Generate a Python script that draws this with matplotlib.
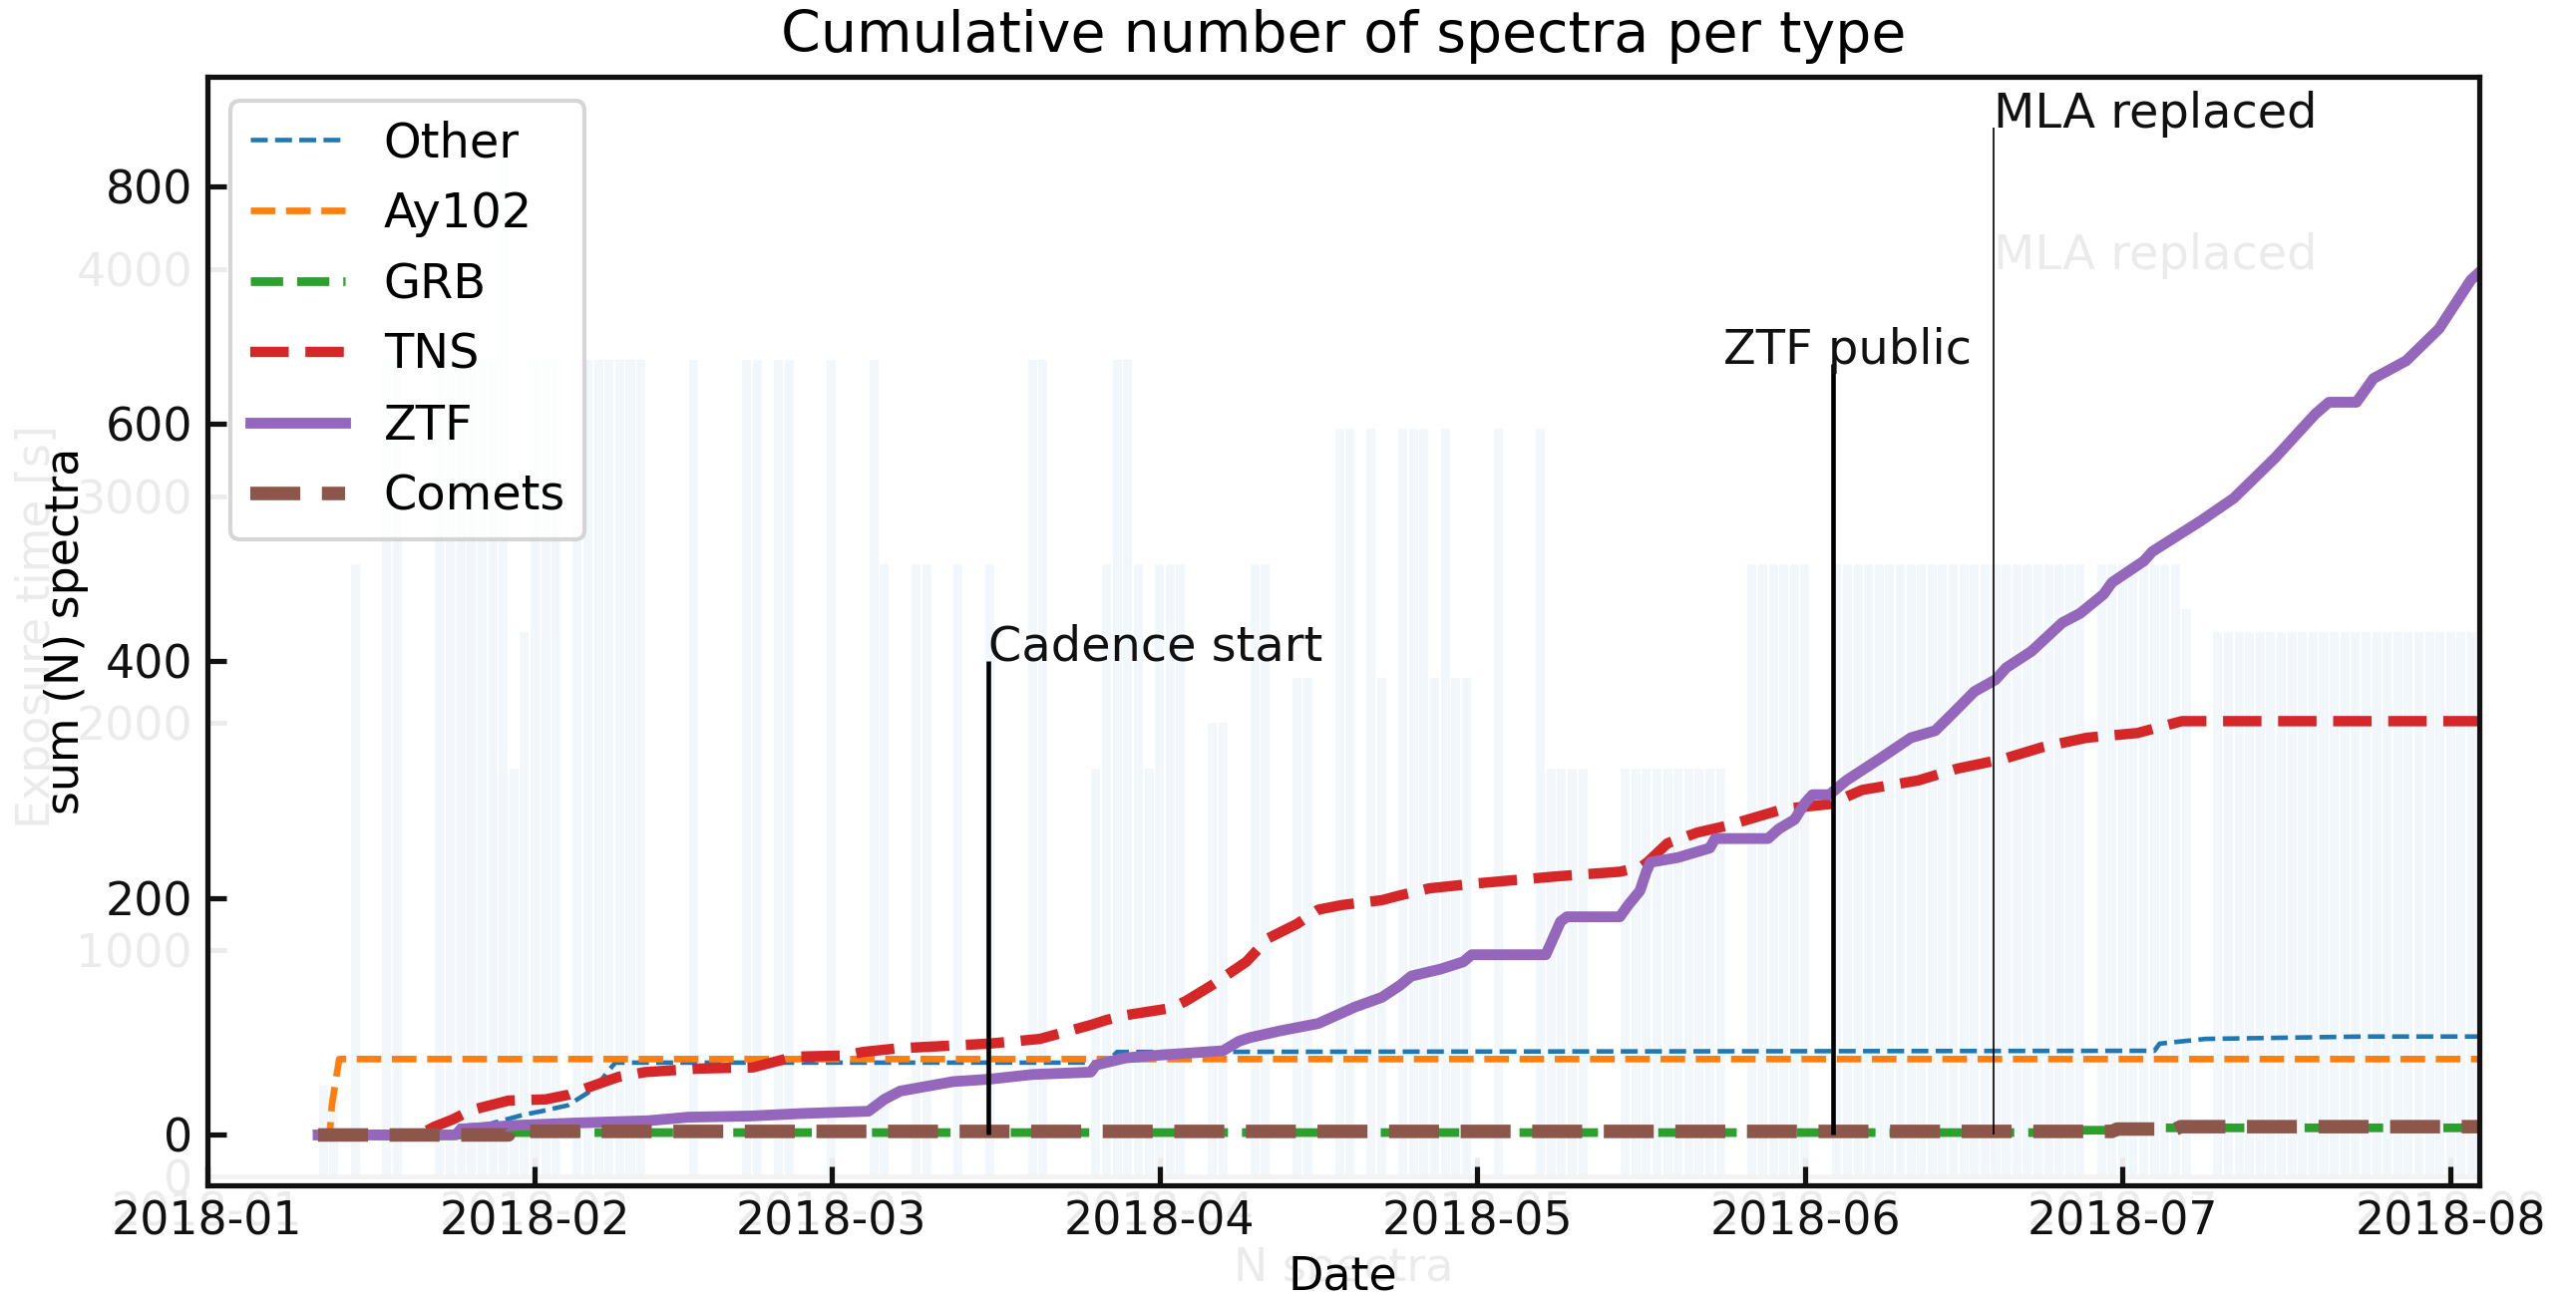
import numpy as np
import matplotlib
matplotlib.use('Agg')
import matplotlib.pyplot as plt
import matplotlib.dates as mdates
import datetime as dt

# ---------------- data (days since 2018-01-01) ----------------
other_day = [10.5, 23.2, 23.5, 26.6, 29.9, 31.6, 34.1, 36.6, 38.3, 38.6, 85, 86, 184, 184.5, 188.8, 203.6, 215]
other_n = [0, 0, 7, 9, 17, 20, 25, 39, 58, 61, 61, 70, 71, 77, 81, 83, 83]

ay102_day = [10.5, 11.6, 11.8, 12.5, 215]
ay102_n = [0, 0, 25, 64, 64]

grb_day = [10.5, 28.5, 28.7, 176.6, 177, 184, 184.5, 215]
grb_n = [0, 0, 2, 2, 4, 4, 6, 6]

tns_day = [10.5, 20, 21.5, 23.2, 25, 28.5, 32, 34.2, 35.4, 37.6, 38.9, 41.4, 46.5, 51.6, 55.5, 60.2,
           62, 65.2, 73.9, 78.7, 83.6, 85, 86.8, 91.1, 92.5, 94.9, 98.2, 100.3, 103, 105, 107.3, 111,
           112.7, 115.5, 119.8, 127.4, 133.5, 135.5, 136.1, 138, 140.8, 143.7, 149, 153.3, 156.4,
           161.7, 165.4, 169.7, 173.4, 177.6, 182.4, 186.6, 215]
tns_n = [0, 0, 7, 13, 21, 29, 30, 34, 38, 45, 49, 53, 56, 57, 66, 67,
         70, 73, 77, 81, 93, 97, 101, 107, 113, 126, 146, 166, 178, 190, 194, 198,
         202, 208, 212, 218, 222, 226, 230, 246, 255, 261, 275, 279, 291,
         299, 309, 317, 327, 335, 339, 349, 349]

ztf_day = [10.5, 23.5, 24, 29, 34.6, 41.7, 45.5, 51.4, 56, 62.5, 64, 65.5, 70.5, 73.9, 78, 83.5, 84,
           86.8, 89.5, 96, 97.5, 98.5, 101.5, 105, 107.5, 108.5, 111, 112.7, 113.8, 116.6, 118.7,
           119.5, 126.5, 127, 127.9, 128.5, 133.5, 134.3, 135.4, 136, 136.4, 139, 142, 142.5, 147.5,
           148.5, 150, 151, 151.7, 153.3, 154.9, 158, 161, 163.3, 165, 167, 169, 170, 172.4, 175.3,
           177, 179.2, 180, 183, 183.8, 188.4, 191.5, 195.4, 199.2, 200.5, 203.1, 204.7, 207.8,
           210.9, 213.9, 215]
ztf_n = [0, 0, 5, 8, 10, 12, 15, 16, 18, 20, 30, 37, 45, 47, 51, 53, 59,
         65, 67, 71, 79, 82, 88, 94, 104, 108, 116, 126, 134, 140, 146,
         152, 152, 162, 180, 184, 184, 194, 206, 222, 230, 234, 242, 250, 250,
         258, 266, 280, 287, 287, 299, 317, 335, 341, 356, 374, 384, 394, 408, 432,
         440, 456, 466, 484, 492, 518, 537, 571, 608, 618, 618, 638, 653,
         680, 721, 730]

comets_day = [10.5, 28.5, 28.6, 180, 180.5, 186, 186.5, 215]
comets_n = [0, 0, 3, 3, 5, 5, 7, 7]

series_names = ['Other', 'Ay102', 'GRB', 'TNS', 'ZTF', 'Comets']

event_names = ['Cadence start', 'ZTF public', 'MLA replaced']
event_day = [73.8, 153.6, 168.8]
event_top = [400, 650, 850]
event_text_day = [73.8, 143.3, 168.8]

# faint background: exposure time bars
bar_day = [11, 12, 14, 17, 18, 22, 23, 24, 25, 26, 27, 28, 29, 30, 31, 32, 33,
           35, 36, 37, 38, 39, 40, 41, 46, 51, 52, 54, 55, 59, 63,
           64, 67, 68, 71, 74, 78, 79, 84, 85, 86, 87, 88, 89, 90, 91, 92, 95, 96,
           99, 100, 103, 104, 107, 108, 110, 111, 113, 114, 115, 116, 117, 118, 119,
           122, 126, 127, 128, 129, 130, 134, 135, 136, 137, 138, 139, 140, 141, 142, 143,
           146, 147, 148, 149, 150, 151, 154, 155, 156, 157, 158, 159, 160, 161, 162, 163,
           164, 165, 166, 167, 168, 169, 170, 171, 172, 173, 174, 175, 176, 177,
           179, 180, 181, 182, 183, 184, 185, 186, 187,
           190, 191, 192, 193, 194, 195, 196, 197, 198, 199, 200, 201, 202, 203, 204,
           205, 206, 207, 208, 209, 210, 211, 212, 213, 214]
bar_exp = [400, 400, 2700, 3600, 3600, 3600, 3600, 3600, 3600, 3600, 3600, 4500, 1800, 2400, 3600, 3600, 3600,
           3600, 3600, 3600, 3600, 3600, 3600, 3600, 3600, 3600, 3600, 3600, 3600, 3600, 3600,
           2700, 2700, 2700, 2700, 2700, 3600, 3600, 1800, 2700, 3600, 3600, 2700, 1800, 2700, 2700, 2700, 2000, 2000,
           2700, 2700, 2200, 2200, 3300, 3300, 3300, 2200, 3300, 3300, 3300, 2200, 3300, 2200, 2200,
           3300, 3300, 1800, 1800, 1800, 1800, 1800, 1800, 1800, 1800, 1800, 1800, 1800, 1800, 1800, 1800,
           2700, 2700, 2700, 2700, 2700, 2700, 2700, 2700, 2700, 2700, 2700, 2700, 2700, 2700, 2700, 2700,
           2700, 2700, 2700, 2700, 2700, 2700, 2700, 2700, 2700, 2700, 2700, 2700, 2700, 2700,
           2700, 2700, 2700, 2700, 2700, 2700, 2700, 2700, 2500,
           2400, 2400, 2400, 2400, 2400, 2400, 2400, 2400, 2400, 2400, 2400, 2400, 2400, 2400, 2400,
           2400, 2400, 2400, 2400, 2400, 2400, 2400, 2400, 2400, 2400]

# ---------------- figure ----------------
BASE = mdates.date2num(dt.datetime(2018, 1, 1))
def dates(d):
    return BASE + np.asarray(d, dtype=float)

W, H = 2583, 1301
fig = plt.figure(figsize=(W / 300, H / 300), dpi=300)

def rect(l, r, b, t):
    return [l / W, 1 - b / H, (r - l) / W, (b - t) / H]

XLIM = (BASE + 0.0, BASE + 214.7)
FAINT = '#ebebeb'

# background (faint) axes
axb = fig.add_axes(rect(207.5, 2486, 1180, 77))
axb.bar(dates(bar_day), bar_exp, width=0.85, color='#1f77b4', alpha=0.06, linewidth=0)
axb.set_xlim(*XLIM)
axb.set_ylim(0, 4850)
axb.set_yticks([0, 1000, 2000, 3000, 4000])
axb.xaxis.set_major_locator(mdates.MonthLocator())
axb.xaxis.set_major_formatter(mdates.DateFormatter('%Y-%m'))
axb.tick_params(direction='in', colors=FAINT, labelsize=11, length=4.5, width=1.2,
                top=False, right=False)
for s in axb.spines.values():
    s.set_color('#f3f3f3')
    s.set_linewidth(1.2)
axb.set_ylabel('Exposure time [s]', color=FAINT, fontsize=11)
axb.set_xlabel('N spectra', color=FAINT, fontsize=11, labelpad=2.5)
axb.text(dates(event_day[2]), 4000, event_names[2], color=FAINT, fontsize=11.5)

# main axes
ax = fig.add_axes(rect(207.5, 2486, 1189, 77))
ax.patch.set_visible(False)

cols = ['#1f77b4', '#ff7f0e', '#2ca02c', '#d62728', '#9467bd', '#8c564b']
lws = [1.1, 1.6, 2.1, 2.5, 2.6, 3.25]
styles = ['--', '--', '--', '--', '-', '--']
xs = [other_day, ay102_day, grb_day, tns_day, ztf_day, comets_day]
ys = [other_n, ay102_n, grb_n, tns_n, ztf_n, comets_n]
for name, xd, yd, c, lw, ls in zip(series_names, xs, ys, cols, lws, styles):
    ax.plot(dates(xd), yd, ls=ls, color=c, lw=lw, label=name)

ax.vlines(dates(event_day), 0, event_top, colors='k', linewidths=[1.1, 1.1, 0.4])
for name, d, t in zip(event_names, event_text_day, event_top):
    ax.text(dates(d), t, name, fontsize=11.5, color='#111111')

ax.set_xlim(*XLIM)
ax.set_ylim(-42.5, 892.5)
ax.set_yticks([0, 200, 400, 600, 800])
ax.xaxis.set_major_locator(mdates.MonthLocator())
ax.xaxis.set_major_formatter(mdates.DateFormatter('%Y-%m'))
ax.tick_params(direction='in', length=4.5, width=1.25, labelsize=11, top=False, right=False,
               colors='#111111')
for s in ax.spines.values():
    s.set_linewidth(1.25)
    s.set_color('#111111')
ax.set_ylabel('sum (N) spectra', fontsize=11)
ax.set_xlabel('Date', fontsize=11, labelpad=2.5)
ax.set_title('Cumulative number of spectra per type', fontsize=13.7)
ax.legend(loc='upper left', fontsize=11.5)

fig.savefig('out.png', dpi=300)
